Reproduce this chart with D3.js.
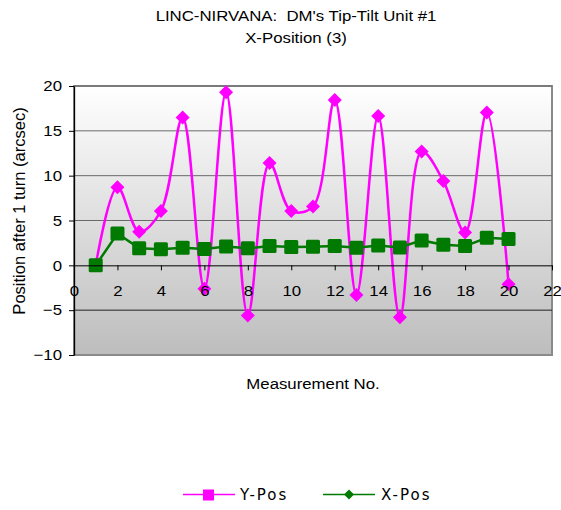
<!DOCTYPE html>
<html><head><meta charset="utf-8">
<script src="https://cdn.jsdelivr.net/npm/d3@7"></script>
<style>body{margin:0;background:#fff}svg{display:block}text{font-family:"Liberation Sans",Arial,sans-serif;white-space:pre}</style>
</head><body>
<svg id="c" width="561" height="510"></svg>
<script>
const measurements = d3.range(1, 21);
const yPos = [0, 8.7, 3.75, 6.05, 16.5, -2.6, 19.3, -5.6, 11.4, 6.05, 6.55, 18.45, -3.3, 16.65, -5.8, 12.7, 9.4, 3.65, 17.05, -2.1];
const xPos = [0, 3.55, 1.9, 1.8, 1.97, 1.82, 2.1, 1.9, 2.15, 2.04, 2.08, 2.15, 1.97, 2.2, 2.0, 2.78, 2.3, 2.15, 3.08, 2.94];
const xTicks = d3.range(0, 23, 2);
const yTicks = [-10, -5, 0, 5, 10, 15, 20];
const titleLines = ["LINC-NIRVANA:  DM's Tip-Tilt Unit #1", "X-Position (3)"];

const SX = 1.12;
const svg = d3.select("#c");
const L = 74, R = 552, T = 86, B = 355;
const x = d3.scaleLinear().domain([0, 22]).range([L, R]);
const y = d3.scaleLinear().domain([-10, 20]).range([B, T]);

const defs = svg.append("defs");
const g = defs.append("linearGradient").attr("id", "bg").attr("x1", 0).attr("y1", 0).attr("x2", 0).attr("y2", 1);
g.append("stop").attr("offset", 0).attr("stop-color", "#ffffff");
g.append("stop").attr("offset", 1).attr("stop-color", "#bdbdbd");

svg.append("rect").attr("x", L).attr("y", T).attr("width", R - L).attr("height", B - T)
  .attr("fill", "url(#bg)").attr("stroke", "#8a8a8a").attr("stroke-width", 2);

// gridlines
svg.append("g").selectAll("line").data(yTicks.filter(d => d !== -10 && d !== 0)).join("line")
  .attr("x1", L).attr("x2", R).attr("y1", d => y(d)).attr("y2", d => y(d))
  .attr("stroke", d => d > 0 ? "#6a6a6a" : "#222").attr("stroke-width", 1);

// y axis
const ya = svg.append("g").attr("transform", `translate(${L},0)`)
  .call(d3.axisLeft(y).tickValues(yTicks).tickSize(5).tickSizeOuter(0).tickPadding(7));
ya.select(".domain").attr("stroke", "#000").attr("stroke-width", 1.3);
ya.selectAll(".tick line").attr("stroke", "#000");
ya.selectAll("text").attr("font-size", 15).attr("fill", "#000")
  .style("font-family", '"Liberation Sans",Arial,sans-serif')
  .attr("x", -12 / SX).attr("transform", `scale(${SX},1)`);

// x axis at y=0
const xa = svg.append("g").attr("transform", `translate(0,${y(0)})`)
  .call(d3.axisBottom(x).tickValues(xTicks).tickSize(5).tickSizeOuter(0).tickPadding(15));
xa.select(".domain").attr("stroke", "#000");
xa.selectAll(".tick line").attr("stroke", "#000");

// series
const ptsY = measurements.map((m, i) => [x(m), y(yPos[i])]);
const ptsX = measurements.map((m, i) => [x(m), y(xPos[i])]);
svg.append("path").attr("d", d3.line().curve(d3.curveCatmullRom.alpha(0.5))(ptsY))
  .attr("fill", "none").attr("stroke", "#ff00ff").attr("stroke-width", 2.5);
svg.append("g").selectAll("path").data(ptsY).join("path")
  .attr("transform", d => `translate(${d[0]},${d[1]})`)
  .attr("d", "M0,-7L7,0L0,7L-7,0Z").attr("fill", "#ff00ff");
svg.append("path").attr("d", d3.line()(ptsX))
  .attr("fill", "none").attr("stroke", "#007a00").attr("stroke-width", 2.5);
svg.append("g").selectAll("rect").data(ptsX).join("rect")
  .attr("x", d => d[0] - 7).attr("y", d => d[1] - 7).attr("width", 14).attr("height", 14).attr("rx", 1.5)
  .attr("fill", "#007a00");

// x tick labels on top
xa.raise();
xa.selectAll("text").attr("font-size", 15).attr("fill", "#000")
  .style("font-family", '"Liberation Sans",Arial,sans-serif')
  .attr("transform", `scale(${SX},1)`);

function stext(cx, cy, str, size) {
  return svg.append("text").attr("transform", `translate(${cx},${cy}) scale(${SX},1)`)
    .attr("text-anchor", "middle").attr("font-size", size).attr("fill", "#000").text(str);
}
// titles
titleLines.forEach((t, i) => stext(296, 21 + i * 22, t, 15));
stext(313, 389, "Measurement No.", 15);
svg.append("text").attr("transform", "translate(25,211) rotate(-90)").attr("text-anchor", "middle")
  .attr("font-size", 16.5).attr("fill", "#000").text("Position after 1 turn (arcsec)");

// legend
const lg = svg.append("g");
lg.append("line").attr("x1", 183).attr("x2", 235).attr("y1", 494.5).attr("y2", 494.5).attr("stroke", "#ff00ff").attr("stroke-width", 1.5);
lg.append("rect").attr("x", 203).attr("y", 489.5).attr("width", 11).attr("height", 11).attr("fill", "#ff00ff");
lg.append("text").attr("x", 240).attr("y", 500).attr("font-size", 15).attr("letter-spacing", 2).attr("fill", "#000")
  .style("font-family", '"DejaVu Sans",sans-serif').text("Y-Pos");
lg.append("line").attr("x1", 323).attr("x2", 375).attr("y1", 494.5).attr("y2", 494.5).attr("stroke", "#007a00").attr("stroke-width", 1.5);
lg.append("path").attr("transform", "translate(349,494.5)").attr("d", "M0,-5L5,0L0,5L-5,0Z").attr("fill", "#007a00");
lg.append("text").attr("x", 381).attr("y", 500).attr("font-size", 15).attr("letter-spacing", 2).attr("fill", "#000")
  .style("font-family", '"DejaVu Sans",sans-serif').text("X-Pos");
</script>
</body></html>
